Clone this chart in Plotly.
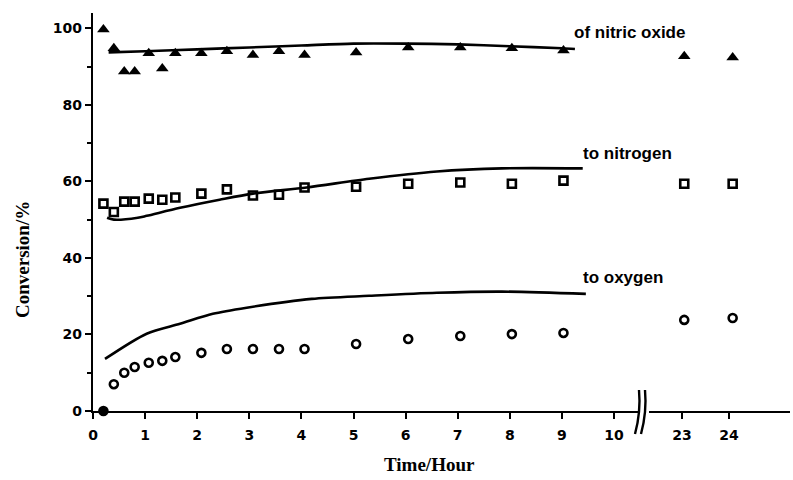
import plotly.graph_objects as go

# Sampling times (hours) for the measured conversions
times = [0.2, 0.4, 0.6, 0.8, 1.07, 1.33, 1.58, 2.08, 2.57, 3.07, 3.57, 4.06,
         5.05, 6.05, 7.05, 8.04, 9.03, 23.05, 24.08]

# Measured conversion (%)
no_conv = [99.7, 94.8, 88.7, 88.7, 93.5, 89.5, 93.5, 93.5, 94.0, 93.0, 94.0, 93.0,
           93.7, 95.0, 95.0, 94.8, 94.2, 92.7, 92.4]
n2_conv = [54.2, 52.0, 54.7, 54.7, 55.5, 55.2, 55.8, 56.8, 57.9, 56.3, 56.5, 58.4,
           58.6, 59.4, 59.7, 59.4, 60.2, 59.4, 59.4]
o2_conv = [0.0, 7.0, 10.0, 11.5, 12.6, 13.1, 14.1, 15.2, 16.2, 16.2, 16.2, 16.2,
           17.5, 18.8, 19.6, 20.1, 20.4, 23.8, 24.3]

# Model curves (hours, %)
no_model_t = [0.3, 1.0, 2.0, 3.0, 4.0, 5.0, 6.0, 7.0, 8.0, 9.0, 9.25]
no_model_y = [93.7, 94.0, 94.5, 95.0, 95.5, 96.0, 96.0, 95.8, 95.3, 94.8, 94.6]
n2_model_t = [0.27, 0.4, 0.86, 1.03, 1.67, 2.43, 3.07, 4.1, 5.3, 6.6, 7.85, 9.4]
n2_model_y = [50.5, 50.0, 50.5, 51.0, 53.1, 55.2, 56.8, 58.4, 60.7, 62.6, 63.4, 63.4]
o2_model_t = [0.23, 1.03, 1.67, 2.3, 2.95, 4.2, 5.3, 6.6, 7.85, 9.46]
o2_model_y = [13.6, 20.2, 22.8, 25.4, 27.0, 29.3, 30.1, 30.9, 31.2, 30.6]

# Curve labels
labels = ["of nitric oxide", "to nitrogen", "to oxygen"]
label_x = [9.2, 9.37, 9.37]
label_y = [99.0, 67.3, 34.8]

x_ticks_main = list(range(0, 11))
x_ticks_late = [23, 24]
y_ticks = [0, 20, 40, 60, 80, 100]

W, H = 793, 480
L, R, T, B = 93, 3, 13, 69
PW, PH = W - L - R, H - T - B


def px(p):
    return (p - L) / PW


def py(p):
    return (H - B - p) / PH


split_lo, split_hi = px(639), px(649)

fig = go.Figure()

# split the series into the early (0-10 h) and late (23-24 h) panels
early = [i for i, t in enumerate(times) if t <= 10]
late = [i for i, t in enumerate(times) if t > 10]

for idx, xa in ((early, "x"), (late, "x2")):
    tt = [times[i] for i in idx]
    fig.add_trace(go.Scatter(
        x=tt, y=[no_conv[i] for i in idx], xaxis=xa, mode="markers",
        marker=dict(symbol="triangle-up", size=11, color="black"),
        showlegend=False))
    fig.add_trace(go.Scatter(
        x=tt, y=[n2_conv[i] for i in idx], xaxis=xa, mode="markers",
        marker=dict(symbol="square-open", size=8, color="black",
                    line=dict(width=2.6, color="black")),
        showlegend=False))
    syms = ["circle" if o2_conv[i] == 0 else "circle-open" for i in idx]
    fig.add_trace(go.Scatter(
        x=tt, y=[o2_conv[i] for i in idx], xaxis=xa, mode="markers",
        marker=dict(symbol=syms, size=8, color="black",
                    line=dict(width=2.6, color="black")),
        showlegend=False, cliponaxis=False))

for mt, my in ((no_model_t, no_model_y), (n2_model_t, n2_model_y),
               (o2_model_t, o2_model_y)):
    fig.add_trace(go.Scatter(
        x=mt, y=my, mode="lines",
        line=dict(color="black", width=2.6, shape="spline", smoothing=0.8),
        showlegend=False))

tick_font = dict(family="DejaVu Sans", size=14, color="black", weight="bold")
axis_common = dict(showline=True, linecolor="black", linewidth=2.4, ticks="outside",
                   ticklen=6, tickwidth=2.4, tickcolor="black", showgrid=False,
                   zeroline=False, tickfont=tick_font)

fig.update_layout(
    width=W, height=H,
    margin=dict(l=L, r=R, t=T, b=B),
    paper_bgcolor="white", plot_bgcolor="white",
    xaxis=dict(domain=[0, split_lo], range=[0, 10.48], tickvals=x_ticks_main,
               anchor="y", ticklabelstandoff=4, **axis_common),
    xaxis2=dict(domain=[split_hi, 1], range=[22.3, 25.3], tickvals=x_ticks_late,
                anchor="y", ticklabelstandoff=4, **axis_common),
    yaxis=dict(range=[0, 104], tickvals=y_ticks, anchor="x",
               minor=dict(dtick=10, ticks="outside", ticklen=4, tickwidth=2,
                          tickcolor="black"),
               **axis_common),
)

for txt, lx, ly in zip(labels, label_x, label_y):
    fig.add_annotation(x=lx, y=ly, xref="x", yref="y", text=txt, showarrow=False,
                       xanchor="left", yanchor="middle",
                       font=dict(family="Liberation Sans", size=17, color="black",
                                 weight="bold"))

title_font = dict(family="Liberation Serif", size=19, color="black", weight="bold")
fig.add_annotation(x=px(22), y=py(260), xref="paper", yref="paper",
                   text="Conversion/%", textangle=-90, showarrow=False,
                   xanchor="center", yanchor="middle", font=title_font)
fig.add_annotation(x=px(429), y=py(464), xref="paper", yref="paper",
                   text="Time/Hour", showarrow=False,
                   xanchor="center", yanchor="middle", font=title_font)

# axis break marks
for dx in (0, 6):
    x0, x1, xc = px(639 + dx), px(635 + dx), px(641 + dx)
    y0, y1, yc = py(390), py(434), py(412)
    fig.add_shape(type="path", xref="paper", yref="paper",
                  path=f"M {x0},{y0} Q {xc},{yc} {x1},{y1}",
                  line=dict(color="black", width=2.4))

fig.write_html("out.html")
